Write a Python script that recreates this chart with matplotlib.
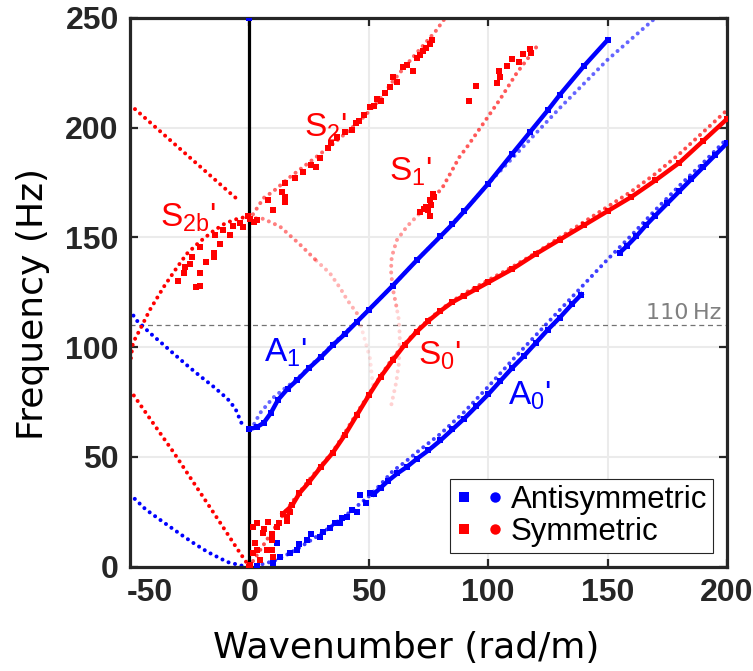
import numpy as np
import matplotlib.pyplot as plt
from matplotlib.lines import Line2D
from matplotlib.legend_handler import HandlerTuple

plt.rcParams['font.family'] = ['DejaVu Sans']
plt.rcParams['mathtext.default'] = 'regular'

BLUE = (0, 0, 1)
RED = (1, 0, 0)
DARK = '#262626'
LEFT_RATIO = 0.833   # negative wavenumbers are drawn compressed

# ---------------- model curves (dots) ----------------
# negative wavenumber side
a0_neg_k = [-60, -52, -43.4, -34, -28, -21, -16, -11, -4, 0]
a0_neg_f = [33, 26, 20.4, 14.4, 10.7, 6.7, 4.4, 2.1, 0.5, 0]
a1_neg_k = [-60, -57, -50, -43, -38, -31, -25, -18, -11, -7, -4.7, -3.5]
a1_neg_f = [117, 112.5, 106.5, 101, 97, 91.5, 87, 82, 76.5, 72, 67, 64.5]
s0_neg_k = [-60, -50, -38, -30, -15, -6, 0]
s0_neg_f = [80.5, 67.5, 52, 41, 20.5, 8, 0]
s2_neg_k = [-60, -50, -40, -30, -20, -10, -5.5]
s2_neg_f = [210.5, 202.5, 194.5, 186.5, 178.5, 170.5, 167]
s2b_neg_k = [-60, -58.5, -55, -50, -43, -37, -31.5, -25, -18, -12, -6, -2, 0]
s2b_neg_f = [92, 102, 108, 117, 127.5, 135.5, 142.5, 148, 153, 156.5, 158.5, 159.3, 159]

# positive wavenumber side
a0_k = [0, 5, 10, 15, 20, 25, 30, 35, 40, 45, 50, 55, 60, 65, 70, 80, 90, 100,
        110, 120, 130, 140, 150, 160, 170, 180, 190, 200]
a0_f = [0, 1, 2.5, 5, 8, 11.5, 15, 19, 23, 27.5, 32, 37.5, 43.5, 47.5, 52, 60.5,
        70.5, 82, 94, 105.5, 117, 128.5, 140, 151, 162.5, 173.5, 184, 195]
a1_k = [0, 2, 4.5, 7.3, 10, 14, 20, 25, 30, 35, 40, 43.5, 50, 60, 70, 80, 90,
        100, 110, 120, 130, 140, 150, 160, 170]
a1_f = [63, 65, 70, 73.6, 77, 80.5, 85.5, 91, 96, 101.5, 106.5, 110, 117, 128,
        139.5, 150.5, 162, 174.5, 186, 197.5, 209, 220, 231, 240.5, 250]
s0_k = [0, 3, 6, 9, 12, 15, 20, 25, 30, 35, 40, 45, 50, 55, 60, 65, 70, 75, 80,
        85, 90, 95, 100, 110, 120, 130, 140, 150, 160, 170, 180, 190, 200]
s0_f = [0, 5, 10, 15, 20, 25, 32.5, 39.5, 46, 52.5, 61, 70, 78.5, 87, 95, 101.5,
        107.5, 112.5, 117, 121, 124.5, 127.5, 130.5, 136.5, 143, 150, 157, 164,
        171, 179, 188, 198, 208]
s1_low_k = [59.5, 61.5, 62.6, 63, 62.5, 61.5]
s1_low_f = [74, 84, 92.5, 105, 113, 119]
s1_mid_k = [61.5, 60, 59.3, 59.6, 61.7, 66, 74]
s1_mid_f = [119, 127, 135, 141, 148.7, 155, 164]
s1_up_k = [74, 81, 88, 91, 98, 105, 112, 119, 121]
s1_up_f = [164, 173, 186.7, 191, 202, 213, 225, 235, 238]
s2_k = [0, 3, 6, 10, 17, 23, 29.6, 36, 42, 48, 54.7, 60, 66, 72, 78, 82]
s2_f = [158, 163, 168, 171, 177.5, 182.5, 188, 193.5, 199, 205, 213, 221, 229,
        236.5, 244, 250]
s2b_k = [0, 5.8, 12.8, 21, 28, 33.8, 38, 41, 45, 47.7, 50.5, 52]
s2b_f = [159, 158.5, 155, 147, 139.5, 133.6, 127, 121.5, 115.5, 106, 95, 80]

# ---------------- measured (squares) ----------------
a0_exp_k = [52, 55, 58, 62, 66, 70, 75, 80, 85, 90, 95, 100, 105, 110, 115,
            120, 125, 130, 135, 139]
a0_exp_f = [33, 36, 39, 42.5, 45.5, 49, 53, 57.5, 62.5, 67.5, 73, 78.5, 84.5,
            90.5, 96, 102, 108, 113.5, 119.5, 124]
a0_exp2_k = [155, 158, 162, 166, 170, 175, 180, 185, 190, 195, 200]
a0_exp2_f = [143, 146, 150.5, 155.5, 160, 165.5, 171, 176.5, 182, 187.5, 193]
a0_pts_k = [0, 3, 10, 11.5, 12.8, 17, 20, 21, 24, 26, 29.6, 31, 33.8, 36, 38,
            39, 41, 43, 45, 46.3, 49, 50.5, 0]
a0_pts_f = [0, 0.5, 1.7, 11, 4.4, 6, 7.6, 10.5, 12, 15, 13.5, 16, 17.4, 20,
            19.8, 22, 22.7, 26, 25, 32.7, 29, 33.5, 250]
a1_exp_k = [0, 3, 6, 9, 12, 16, 20, 25, 30, 35, 40, 45, 50, 60, 70, 80, 85,
            90, 100, 110, 117.5, 125, 130, 140, 150]
a1_exp_f = [62.7, 63.5, 65.5, 70, 76, 81, 85, 90.5, 95.5, 101, 106, 111.5, 117,
            128, 139.5, 150.5, 156, 162, 174.5, 188, 198, 208, 215, 228, 240]
s0_exp_k = [14, 18, 21, 25, 30, 35, 40, 45, 50, 55, 60, 65, 70, 75, 80, 85,
            90, 95, 100, 110, 120, 130, 140, 150, 160, 170, 180, 190, 200]
s0_exp_f = [24, 28, 33.5, 38.5, 45.5, 52, 60, 69, 78, 86.5, 94, 101, 107,
            112, 116.5, 120.5, 123.5, 126.5, 129.5, 135.5, 142.5, 149, 155.5,
            162, 168.5, 176, 184, 194, 204]
s0_pts_k = [0, 0.3, 1.7, 1.7, 2.5, 3, 3, 4.4, 5.7, 6, 7.3, 7.9, 9.4, 9.4, 9.4,
            10, 11.5, 12.5, 15.7, 15.7, 17]
s0_pts_f = [0, 0.8, 18, 6, 11, 20, 7.6, 3, 15.3, 17, 7.6, 20.4, 12, 15, 7.6,
            4.4, 18, 20, 22.7, 21, 25]
s1_pts_k = [71.4, 73, 74, 75, 75.6, 75.6, 76, 77, 77.5, 92, 95, 103.5, 105,
            104.5, 108, 110, 113, 114.5, 117.4, 117.8]
s1_pts_f = [161.5, 163, 164, 162.5, 160, 167, 165, 170, 168.5, 212, 219, 220.5,
            223, 226, 228, 231.5, 230, 233.8, 236, 234]
s2_pts_k = [0.3, 2, 3, 8, 10, 13.7, 15, 15, 15, 19, 22.6, 26, 28, 29.6, 33,
            34, 36.6, 40, 43, 44.5, 46, 48, 50.5, 52, 53.5, 55, 57, 59, 60, 62,
            64.4, 66, 68.6, 70, 71.5, 72.8, 74, 75.6, 76.3]
s2_pts_f = [158.5, 157, 158, 167, 162.5, 170.6, 166, 168.5, 174.7, 177, 179.8,
            183, 182, 186, 190.6, 193, 195.7, 198, 199, 202, 203, 206, 209.5,
            210, 213, 212, 216, 218.5, 223, 221, 227.6, 228.5, 226, 231.6, 233,
            235, 236.5, 238, 240]
s2b_pts_k = [-36, -33, -32.3, -30, -28.8, -27, -25, -24.8, -24.8, -22, -18,
             -18, -17.2, -14.7, -13, -9.7, -8, -4.7, -3.2, -0.6]
s2b_pts_f = [130, 133.6, 136.6, 138, 141, 127.5, 134, 145.6, 128, 139, 142.8,
             141, 151, 147, 153.3, 151, 155, 156.4, 154.7, 160]

# labels of the modes: (text, k, f, colour)
mode_labels = [(r"S$_2$'", 32, 200, RED), (r"S$_1$'", 67.5, 180, RED),
               (r"S$_{2b}$'", -31, 159, RED), (r"A$_1$'", 15, 97.5, BLUE),
               (r"S$_0$'", 79.5, 96, RED), (r"A$_0$'", 117.5, 78, BLUE)]


def fwd(x):
    x = np.asarray(x, dtype=float)
    return np.where(x < 0, x * LEFT_RATIO, x)


def inv(x):
    x = np.asarray(x, dtype=float)
    return np.where(x < 0, x / LEFT_RATIO, x)


def model(ax, k, f, color, alpha=1.0):
    ax.plot(k, f, color=color, alpha=alpha, lw=2.9, ls=(0, (0.01, 1.65)),
            dash_capstyle='round', zorder=2)


def measured_line(ax, k, f, color):
    ax.plot(k, f, '-s', color=color, lw=3.2, ms=4, mew=0, zorder=3)


def measured_pts(ax, k, f, color):
    ax.plot(k, f, 's', ls='none', color=color, ms=4, mew=0, zorder=3)


fig = plt.figure(figsize=(7.53, 6.71), dpi=100)
ax = fig.add_axes([0.1726, 0.1555, 0.7929, 0.8177])
ax.set_xscale('function', functions=(fwd, inv))

# model curves
model(ax, a0_neg_k, a0_neg_f, BLUE)
model(ax, a1_neg_k, a1_neg_f, BLUE)
model(ax, s0_neg_k, s0_neg_f, RED)
model(ax, s2_neg_k, s2_neg_f, RED)
model(ax, s2b_neg_k, s2b_neg_f, RED)
model(ax, a0_k, a0_f, BLUE, 0.75)
model(ax, a1_k, a1_f, BLUE, 0.6)
model(ax, s0_k, s0_f, RED, 0.7)
model(ax, s1_low_k, s1_low_f, RED, 0.18)
model(ax, s1_mid_k, s1_mid_f, RED, 0.4)
model(ax, s1_up_k, s1_up_f, RED, 0.65)
model(ax, s2_k, s2_f, RED, 0.6)
model(ax, s2b_k[:5], s2b_f[:5], RED, 0.5)
model(ax, s2b_k[4:9], s2b_f[4:9], RED, 0.3)
model(ax, s2b_k[8:], s2b_f[8:], RED, 0.12)

# measured data
measured_line(ax, a0_exp_k, a0_exp_f, BLUE)
measured_line(ax, a0_exp2_k, a0_exp2_f, BLUE)
measured_pts(ax, a0_pts_k, a0_pts_f, BLUE)
measured_line(ax, a1_exp_k, a1_exp_f, BLUE)
measured_line(ax, s0_exp_k, s0_exp_f, RED)
measured_pts(ax, s0_pts_k, s0_pts_f, RED)
measured_pts(ax, s1_pts_k, s1_pts_f, RED)
measured_pts(ax, s2_pts_k, s2_pts_f, RED)
measured_pts(ax, s2b_pts_k, s2b_pts_f, RED)

ax.axvline(0, color='k', lw=2.3, zorder=2.5)
ax.axhline(110, color='0.45', lw=0.9, ls=(0, (4, 3)), zorder=1.5)
ax.text(197.5, 111.2, '110\u2009Hz', ha='right', va='bottom', color='0.5',
        fontsize=16)

for txt, k, f, c in mode_labels:
    ax.text(k, f, txt, color=c, fontsize=24, family='Liberation Sans',
            ha='center', va='center')

ax.set_xlim(-60, 200)
ax.set_ylim(0, 250)
ax.set_xticks([0, 50, 100, 150, 200])
ax.set_xticks([-50], minor=True)
ax.set_xticklabels(['-50'], minor=True)
ax.set_yticks([0, 50, 100, 150, 200, 250])
ax.grid(True, which='major', color='0.92', lw=1.5)
ax.set_axisbelow(True)
ax.tick_params(which='major', direction='in', length=6, width=1.6,
               top=True, right=True, color=DARK, labelcolor=DARK,
               labelsize=23, pad=8)
ax.tick_params(which='minor', length=0, labelcolor=DARK, labelsize=23, pad=8)
for lbl in ax.get_xticklabels(which='both') + ax.get_yticklabels():
    lbl.set_fontfamily('Liberation Sans')
    lbl.set_fontweight('bold')
for sp in ax.spines.values():
    sp.set_color(DARK)
    sp.set_linewidth(2.3)

ax.set_xlabel('Wavenumber (rad/m)', fontsize=26, va='center')
ax.xaxis.set_label_coords(0.462, -0.148)
ax.set_ylabel('Frequency (Hz)', fontsize=26, va='center')
ax.yaxis.set_label_coords(-0.163, 0.479)

h_anti = (Line2D([], [], marker='s', color=BLUE, ls='none', ms=7.5, mew=0),
          Line2D([], [], marker='o', color=BLUE, ls='none', ms=7.5, mew=0))
h_sym = (Line2D([], [], marker='s', color=RED, ls='none', ms=7.5, mew=0),
         Line2D([], [], marker='o', color=RED, ls='none', ms=7.5, mew=0))
leg = ax.legend([h_anti, h_sym], ['Antisymmetric', 'Symmetric'],
                handler_map={tuple: HandlerTuple(ndivide=None, pad=0.45)},
                loc='lower right', bbox_to_anchor=(0.977, 0.025),
                frameon=True, fancybox=False, edgecolor=DARK, framealpha=1,
                prop={'family': 'Liberation Sans', 'size': 22.5},
                handlelength=1.5, handletextpad=0.25, borderpad=0.2,
                labelspacing=0.05, borderaxespad=0)
leg.get_frame().set_linewidth(0.8)

fig.savefig('out.png', dpi=100)
